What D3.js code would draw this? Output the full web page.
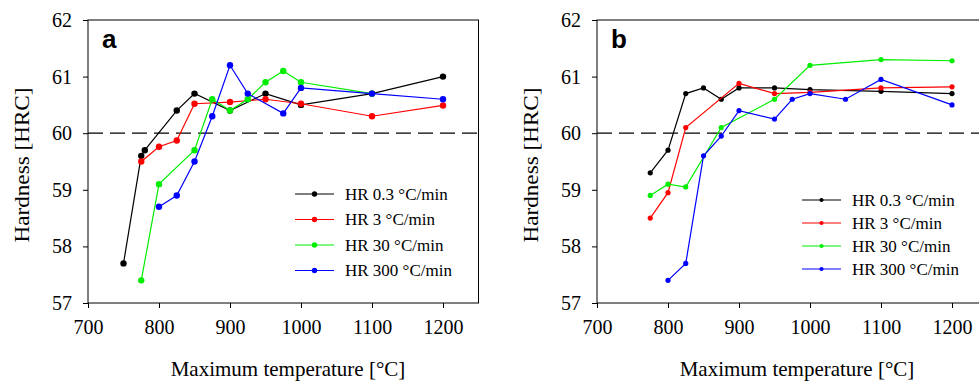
<!DOCTYPE html>
<html>
<head>
<meta charset="utf-8">
<script src="https://cdn.jsdelivr.net/npm/d3@7"></script>
<style>
  body { margin: 0; background: #fff; }
  svg { display: block; }
  text { font-family: "Liberation Serif", "Times New Roman", serif; fill: #000; }
</style>
</head>
<body>
<div id="chart"></div>
<script>
// series names and colours
const seriesNames = ['HR 0.3 °C/min', 'HR 3 °C/min', 'HR 30 °C/min', 'HR 300 °C/min'];
const seriesColors = ['#000000', '#ff0000', '#00ee00', '#0000ff'];

// panel a: [temperature, hardness]
const a_hr03 = [[750, 57.7], [775, 59.6], [780, 59.7], [825, 60.4], [850, 60.7], [900, 60.4], [950, 60.7], [1000, 60.5], [1100, 60.7], [1200, 61.0]];
const a_hr3 = [[775, 59.5], [800, 59.76], [825, 59.87], [850, 60.52], [900, 60.55], [950, 60.6], [1000, 60.52], [1100, 60.3], [1200, 60.49]];
const a_hr30 = [[775, 57.4], [800, 59.1], [850, 59.7], [875, 60.6], [900, 60.4], [925, 60.6], [950, 60.9], [975, 61.1], [1000, 60.9], [1100, 60.7]];
const a_hr300 = [[800, 58.7], [825, 58.9], [850, 59.5], [875, 60.3], [900, 61.2], [925, 60.7], [975, 60.35], [1000, 60.8], [1100, 60.7], [1200, 60.6]];

// panel b
const b_hr03 = [[775, 59.3], [800, 59.7], [825, 60.7], [850, 60.8], [875, 60.6], [900, 60.8], [950, 60.8], [1000, 60.77], [1100, 60.74], [1200, 60.7]];
const b_hr3 = [[775, 58.5], [800, 58.95], [825, 60.1], [900, 60.88], [950, 60.7], [1000, 60.72], [1100, 60.8], [1200, 60.82]];
const b_hr30 = [[775, 58.9], [800, 59.1], [825, 59.05], [875, 60.1], [950, 60.6], [1000, 61.2], [1100, 61.3], [1200, 61.28]];
const b_hr300 = [[800, 57.4], [825, 57.7], [850, 59.6], [875, 59.95], [900, 60.4], [950, 60.25], [975, 60.6], [1000, 60.7], [1050, 60.6], [1100, 60.95], [1200, 60.5]];

const xTicks = [700, 800, 900, 1000, 1100, 1200];
const yTicks = [57, 58, 59, 60, 61, 62];
const refLine = 60;

const W = 979, H = 381;
const svg = d3.select('#chart').append('svg').attr('width', W).attr('height', H);

function drawPanel(opts) {
  const { left, label, series, legendX, legendY, legendStep, r } = opts;
  const top = 20, bottom = 303;
  const x = d3.scaleLinear().domain([700, 1250]).range([left, left + 5.5 * 71]);
  const y = d3.scaleLinear().domain([57, 62]).range([bottom, top]);
  const g = svg.append('g');

  // frame
  g.append('rect')
    .attr('x', x(700)).attr('y', top)
    .attr('width', x(1250) - x(700)).attr('height', bottom - top)
    .attr('fill', 'none').attr('stroke', '#000').attr('stroke-width', 1);

  // axes
  const xa = g.append('g').attr('transform', `translate(0,${bottom})`)
    .call(d3.axisBottom(x).tickValues(xTicks).tickSize(5).tickPadding(12).tickFormat(d3.format('d')));
  xa.select('.domain').remove();
  xa.selectAll('text').style('font-size', '20px').style('font-family', '"Liberation Serif", serif');

  const ya = g.append('g').attr('transform', `translate(${x(700)},0)`)
    .call(d3.axisLeft(y).tickValues(yTicks).tickSize(5).tickPadding(11).tickFormat(d3.format('d')));
  ya.select('.domain').remove();
  ya.selectAll('text').style('font-size', '20px').style('font-family', '"Liberation Serif", serif');

  // dashed reference line
  g.append('line')
    .attr('x1', x(700)).attr('x2', x(1250))
    .attr('y1', y(refLine)).attr('y2', y(refLine))
    .attr('stroke', '#000').attr('stroke-width', 1.2)
    .attr('stroke-dasharray', '15,7');

  // titles
  g.append('text')
    .attr('transform', `translate(${left - 66},${165}) rotate(-90)`)
    .attr('text-anchor', 'middle').attr('dy', '0.35em')
    .attr('textLength', 155).attr('lengthAdjust', 'spacingAndGlyphs')
    .style('font-size', '20px')
    .text('Hardness [HRC]');

  g.append('text')
    .attr('x', left + 200).attr('y', 376)
    .attr('text-anchor', 'middle')
    .style('font-size', '21px')
    .text('Maximum temperature [°C]');

  g.append('text')
    .attr('x', left + 14).attr('y', 48)
    .style('font-family', '"Liberation Sans", Arial, sans-serif')
    .style('font-weight', 'bold')
    .style('font-size', '26px')
    .text(label);

  const line = d3.line().x(d => x(d[0])).y(d => y(d[1]));

  series.forEach((s, i) => {
    g.append('path').datum(s)
      .attr('d', line)
      .attr('fill', 'none')
      .attr('stroke', seriesColors[i])
      .attr('stroke-width', 1.2);
    g.selectAll(null).data(s).enter().append('circle')
      .attr('cx', d => x(d[0])).attr('cy', d => y(d[1]))
      .attr('r', r)
      .attr('fill', seriesColors[i]);
  });

  // legend
  seriesNames.forEach((n, i) => {
    const ly = legendY + i * legendStep;
    g.append('line')
      .attr('x1', legendX).attr('x2', legendX + 39)
      .attr('y1', ly).attr('y2', ly)
      .attr('stroke', seriesColors[i]).attr('stroke-width', 1.2);
    g.append('circle')
      .attr('cx', legendX + 19.5).attr('cy', ly).attr('r', r - 0.5)
      .attr('fill', seriesColors[i]);
    g.append('text')
      .attr('x', legendX + 50).attr('y', ly).attr('dy', '0.35em')
      .style('font-size', '17px')
      .text(n);
  });
}

drawPanel({
  left: 88, label: 'a',
  series: [a_hr03, a_hr3, a_hr30, a_hr300],
  legendX: 295, legendY: 194, legendStep: 25.5, r: 3.2
});

drawPanel({
  left: 597, label: 'b',
  series: [b_hr03, b_hr3, b_hr30, b_hr300],
  legendX: 802, legendY: 200, legendStep: 23, r: 2.6
});
</script>
</body>
</html>
